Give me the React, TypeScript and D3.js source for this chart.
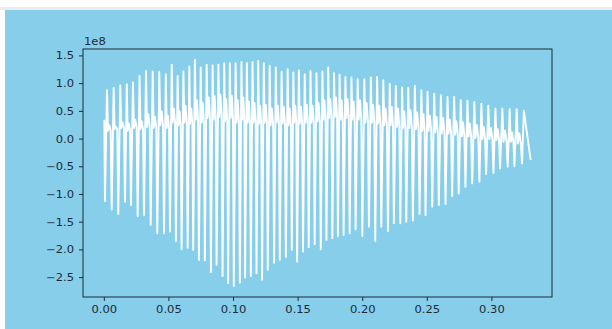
import React, { useEffect, useRef } from "react";
import * as d3 from "d3";

// trough times (ms) and values (x1e8), one per cycle
const troughTimes = [
  0.5, 5.7, 10.8, 16.0, 20.6, 25.8, 30.7, 35.9, 41.0, 46.2, 50.8, 55.4, 59.8, 64.5, 68.8, 73.2,
  77.8, 82.5, 86.9, 91.5, 95.8, 100.2, 104.9, 109.0, 113.4, 117.8, 122.1, 126.5, 131.4, 135.8,
  140.5, 145.1, 149.2, 153.8, 158.2, 162.8, 167.5, 171.9, 176.5, 180.8, 185.2, 189.9, 194.5,
  199.7, 204.8, 209.7, 214.4, 219.5, 224.1, 229.1, 233.7, 238.8, 244.0, 248.6, 253.8, 258.9,
  264.1, 269.2, 274.3, 279.5, 284.7, 290.3, 295.5, 301.2, 306.3, 312.2, 317.4, 323.3,
];
const troughs = [
  -1.12, -1.27, -1.35, -1.13, -1.19, -1.39, -1.37, -1.55, -1.7, -1.7, -1.67, -1.84, -1.99, -1.96, -2.0, -2.18,
  -2.19, -2.4, -2.27, -2.47, -2.6, -2.65, -2.59, -2.5, -2.47, -2.42, -2.54, -2.36, -2.23, -2.18, -2.13, -2.0,
  -2.21, -2.03, -1.95, -1.9, -1.99, -1.82, -1.79, -1.75, -1.73, -1.7, -1.63,
  -1.75, -1.58, -1.84, -1.58, -1.66, -1.52, -1.52, -1.49, -1.47, -1.35, -1.37, -1.22, -1.19, -1.17, -1.03,
  -0.98, -0.86, -0.8, -0.77, -0.63, -0.61, -0.53, -0.5, -0.49, -0.44,
];
const peaks = [
  0.88, 0.92, 0.97, 0.99, 1.02, 1.14, 1.23, 1.22, 1.21, 1.17, 1.34, 1.14, 1.22, 1.31, 1.43, 1.29, 1.34, 1.33,
  1.34, 1.37, 1.37, 1.37, 1.39,
  1.37, 1.39, 1.41, 1.37, 1.32, 1.29, 1.21, 1.26, 1.2, 1.24, 1.17, 1.23, 1.19, 1.22, 1.29, 1.19, 1.16, 1.12,
  1.11, 1.08, 1.08, 1.11, 1.12, 1.06,
  1.0, 0.96, 0.93, 0.92, 0.96, 0.88, 0.85, 0.82, 0.79, 0.76, 0.76, 0.7, 0.69, 0.67, 0.64, 0.6, 0.55, 0.55,
  0.54, 0.54, 0.51,
];
const dips = [
  0.15, 0.18, 0.2, 0.15, 0.2, 0.18, 0.22, 0.2, 0.25, 0.2, 0.3, 0.25,
  0.3, 0.28, 0.35, 0.3, 0.38, 0.35, 0.4, 0.32, 0.38, 0.3, 0.35, 0.3,
  0.3, 0.28, 0.3, 0.25, 0.3, 0.28, 0.25, 0.3, 0.28, 0.3, 0.3, 0.32,
  0.35, 0.38, 0.4, 0.35, 0.38, 0.35, 0.35, 0.3, 0.3, 0.28, 0.25, 0.25,
  0.22, 0.2, 0.2, 0.18, 0.15, 0.15, 0.12, 0.1, 0.1, 0.08, 0.05, 0.05,
  0.02, 0.0, 0.0, -0.02, -0.05, -0.05, -0.08, -0.1,
];
const bumps = [
  0.25, 0.22, 0.3, 0.28, 0.35, 0.32, 0.45, 0.4, 0.5, 0.42, 0.55, 0.5,
  0.6, 0.55, 0.7, 0.65, 0.75, 0.78, 0.8, 0.72, 0.78, 0.7, 0.75, 0.68,
  0.65, 0.6, 0.62, 0.55, 0.6, 0.58, 0.55, 0.6, 0.58, 0.62, 0.6, 0.65,
  0.7, 0.72, 0.75, 0.7, 0.72, 0.68, 0.7, 0.65, 0.62, 0.6, 0.55, 0.58,
  0.55, 0.5, 0.52, 0.48, 0.45, 0.42, 0.4, 0.38, 0.35, 0.32, 0.3, 0.28,
  0.25, 0.22, 0.2, 0.18, 0.15, 0.12, 0.1, 0.1,
];
const startValue = 0.35;
const endValue = -0.38;
const endTime = 0.33;

const xTicks = [0, 0.05, 0.1, 0.15, 0.2, 0.25, 0.3];
const yTicks = [-2.5, -2.0, -1.5, -1.0, -0.5, 0.0, 0.5, 1.0, 1.5];

const W = 612;
const H = 329;
const BG = "#87ceeb";
const INK = "#1b2b36";

const App = () => {
  const ref = useRef<SVGSVGElement>(null);

  useEffect(() => {
    const margin = { top: 49, right: 60, bottom: 32, left: 83 };
    const iw = W - margin.left - margin.right;
    const ih = H - margin.top - margin.bottom;

    // build waveform points from per-cycle values
    const pts: [number, number][] = [[0, startValue]];
    troughTimes.forEach((tm, i) => {
      const t = tm / 1000;
      const last = i + 1 >= troughTimes.length;
      const next = !last ? troughTimes[i + 1] / 1000 : t + 0.0048;
      const p = next - t;
      pts.push([t, troughs[i]]);
      pts.push([t + 0.3 * p, peaks[i]]);
      if (!last) {
        pts.push([t + 0.45 * p, dips[i]]);
        pts.push([t + 0.65 * p, bumps[i]]);
        pts.push([t + 0.85 * p, dips[i]]);
      }
    });
    pts.push([endTime, endValue]);

    const x = d3.scaleLinear().domain([-0.0165, 0.3465]).range([0, iw]);
    const y = d3.scaleLinear().domain([-2.85, 1.625]).range([ih, 0]);

    const svg = d3.select(ref.current);
    svg.selectAll("*").remove();

    svg.append("rect").attr("width", W).attr("height", H).attr("fill", "#ffffff");
    svg.append("rect").attr("x", 0).attr("y", 7).attr("width", W).attr("height", 3).attr("fill", "#ececec");
    svg.append("rect").attr("x", 5).attr("y", 10).attr("width", W - 5).attr("height", H - 10).attr("fill", BG);

    const g = svg.append("g").attr("transform", `translate(${margin.left},${margin.top})`);

    const line = d3
      .line<[number, number]>()
      .x((d) => x(d[0]))
      .y((d) => y(d[1]));

    g.append("path")
      .datum(pts)
      .attr("d", line)
      .attr("fill", "none")
      .attr("stroke", "#ffffff")
      .attr("stroke-width", 1.9)
      .attr("stroke-linejoin", "round");

    // spines
    g.append("rect")
      .attr("width", iw)
      .attr("height", ih)
      .attr("fill", "none")
      .attr("stroke", INK)
      .attr("stroke-width", 1);

    const fmtX = d3.format(".2f");
    const fmtY = d3.format(".1f");

    // x axis
    xTicks.forEach((v) => {
      const px = x(v);
      g.append("line")
        .attr("x1", px).attr("x2", px)
        .attr("y1", ih).attr("y2", ih + 4)
        .attr("stroke", INK);
      g.append("text")
        .attr("transform", `translate(${px},${ih + 16}) scale(1.2,1)`)
        .attr("text-anchor", "middle")
        .attr("font-family", "DejaVu Sans")
        .attr("font-size", 9.6)
        .attr("fill", INK)
        .text(fmtX(v));
    });

    // y axis
    yTicks.forEach((v) => {
      const py = y(v);
      g.append("line")
        .attr("x1", -4).attr("x2", 0)
        .attr("y1", py).attr("y2", py)
        .attr("stroke", INK);
      g.append("text")
        .attr("transform", `translate(-9,${py + 3.5}) scale(1.2,1)`)
        .attr("text-anchor", "end")
        .attr("font-family", "DejaVu Sans")
        .attr("font-size", 9.6)
        .attr("fill", INK)
        .text(fmtY(v).replace("-", "\u2212"));
    });

    g.append("text")
      .attr("transform", `translate(1,-4) scale(1.2,1)`)
      .attr("font-family", "DejaVu Sans")
      .attr("font-size", 9.6)
      .attr("fill", INK)
      .text("1e8");
  }, []);

  return (
    <svg
      ref={ref}
      width={W}
      height={H}
      style={{ position: "absolute", left: 0, top: 0, display: "block" }}
    ></svg>
  );
};

export default App;
